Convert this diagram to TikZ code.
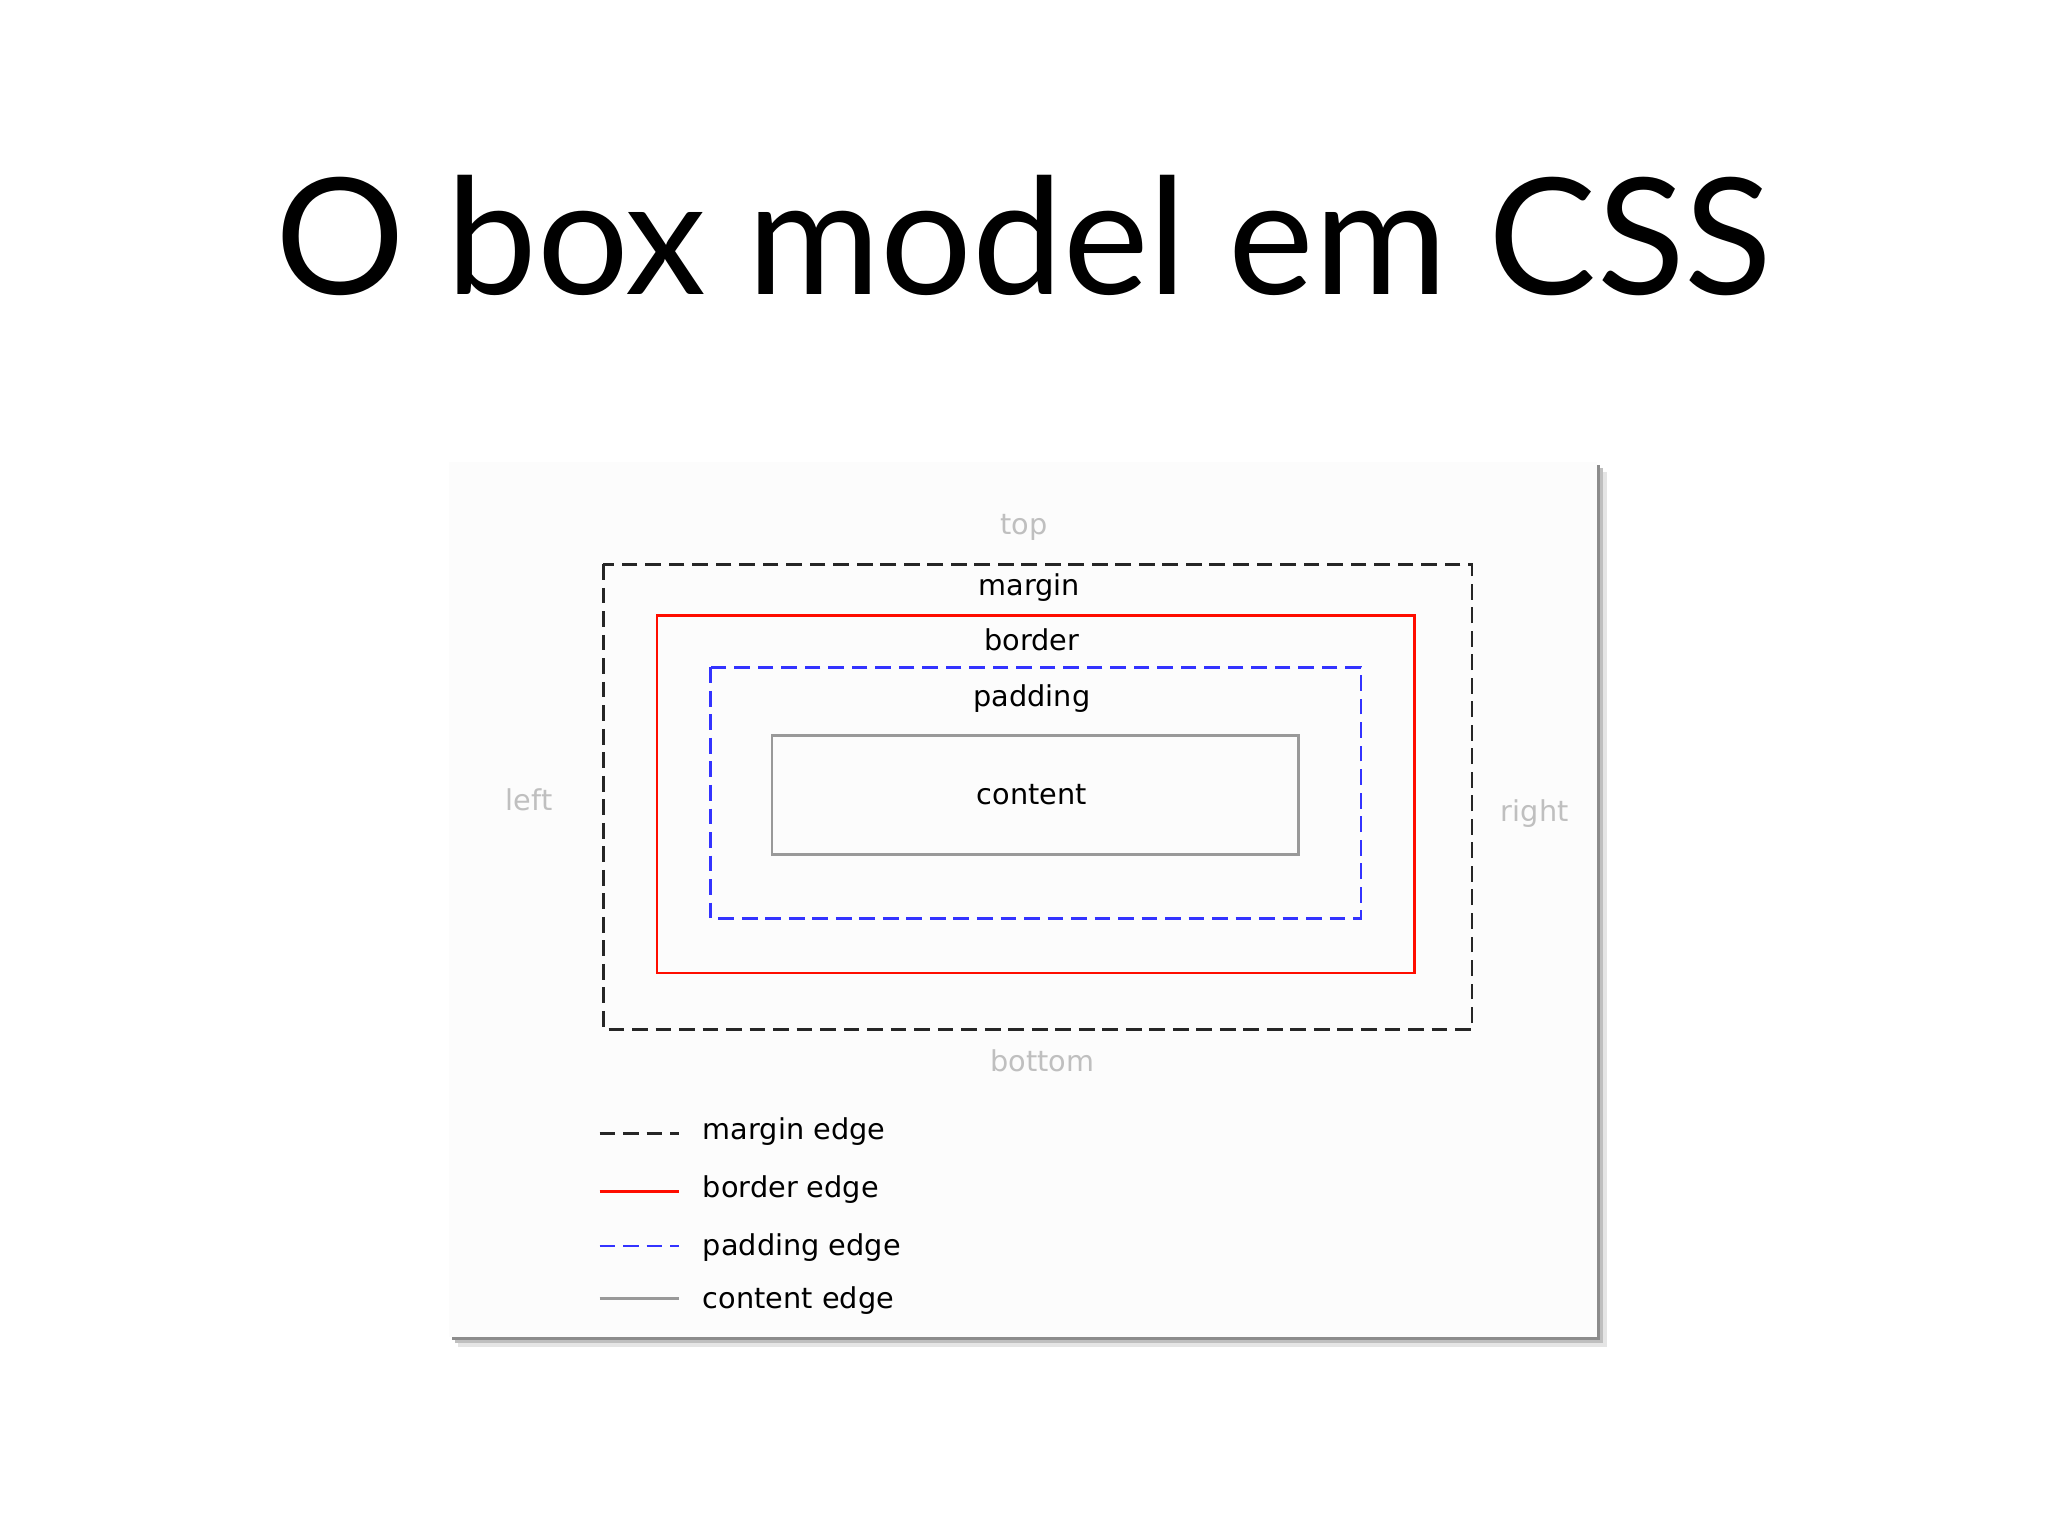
\documentclass[tikz,border=0pt]{standalone}
\usepackage{fontspec}
\setmainfont{DejaVu Sans}
\newfontfamily\titlefont{Lato}
\begin{document}
\begin{tikzpicture}[x=1pt,y=-1pt,
  lbl/.style={font=\fontsize{22}{26}\selectfont, inner sep=0pt},
  faint/.style={lbl, text=black!25},
  mdash/.style={draw=black!85, line width=2pt, dash pattern=on 12pt off 6pt},
  bedge/.style={draw=red!90!orange, line width=2pt},
  pdash/.style={draw=blue!80, line width=2pt, dash pattern=on 12pt off 6pt},
  cedge/.style={draw=black!40, line width=2pt}]
\useasboundingbox (0,0) rectangle (1568,1176);
\fill[white] (0,0) rectangle (1568,1176);
\node[font=\titlefont\fontsize{124}{130}\selectfont, inner sep=0pt] (title) at (784,180) {O box model em CSS};
\fill[black!10] (351,361) rectangle (1230,1031);
\fill[black!25] (348,358) rectangle (1227,1028);
\fill[black!45] (346,356) rectangle (1225,1026);
\fill[white!99!black] (344,354) rectangle (1223,1024);
\draw[mdash] (462,432) rectangle (1127,788);
\draw[bedge] (503,471) rectangle (1083,745);
\draw[pdash] (544,511) rectangle (1042,703);
\draw[cedge] (591,563) rectangle (994,654);
\node[faint] (top) at (784,404) {top};
\node[faint] (left) at (405,612) {left};
\node[faint] (right) at (1175,623) {right};
\node[faint] (bottom) at (798,812) {bottom};
\node[lbl] (margin) at (788,450) {margin};
\node[lbl] (border) at (790,490) {border};
\node[lbl] (padding) at (790,535) {padding};
\node[lbl] (content) at (790,608) {content};
\coordinate (m1) at (459,868); \coordinate (m2) at (520,868);
\coordinate (b1) at (459,912); \coordinate (b2) at (520,912);
\coordinate (p1) at (459,954); \coordinate (p2) at (520,954);
\coordinate (c1) at (459,994); \coordinate (c2) at (520,994);
\draw[mdash] (m1) -- (m2);
\draw[bedge] (b1) -- (b2);
\draw[pdash] (p1) -- (p2);
\draw[cedge] (c1) -- (c2);
\node[lbl, anchor=west] (lm) at (538,866) {margin edge};
\node[lbl, anchor=west] (lb) at (538,911) {border edge};
\node[lbl, anchor=west] (lp) at (538,955) {padding edge};
\node[lbl, anchor=west] (lc) at (538,996) {content edge};
\end{tikzpicture}
\end{document}
